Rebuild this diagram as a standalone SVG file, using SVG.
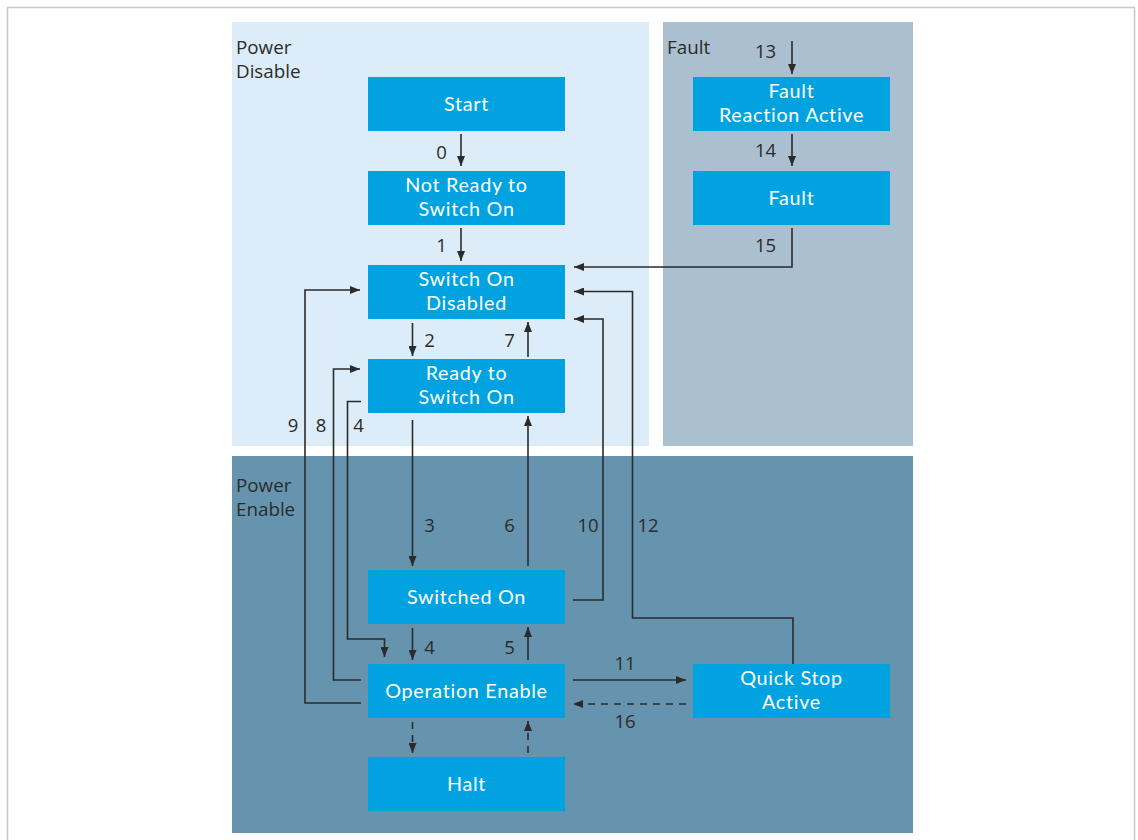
<svg xmlns="http://www.w3.org/2000/svg" width="1138" height="840" viewBox="0 0 1138 840">
<defs>
<marker id="ah" viewBox="0 0 10 8" refX="10" refY="4" markerWidth="10" markerHeight="8" markerUnits="userSpaceOnUse" orient="auto">
<path d="M0,0 L10,4 L0,8 Z" fill="#2b2b2b"/>
</marker>
</defs>
<style>
.box{fill:#00a3df}
.bt{font-family:Lato,"Open Sans",sans-serif;font-size:19.8px;letter-spacing:0.7px;fill:#ffffff;text-anchor:middle}
.rl{font-family:"Open Sans","Noto Sans",sans-serif;font-size:18.8px;fill:#2b2b2b}
.nl{font-family:"Open Sans","Noto Sans",sans-serif;font-size:18.5px;fill:#2b2b2b;text-anchor:middle}
.c{fill:none;stroke:#2b2b2b;stroke-width:1.6}
.a{marker-end:url(#ah)}
.d{stroke-dasharray:7 6}
</style>
<rect x="0" y="0" width="1138" height="840" fill="#ffffff"/>
<rect x="7.5" y="7.5" width="1127" height="840" fill="none" stroke="#c8c8c8" stroke-width="1.5"/>
<g id="regions">
<rect x="232" y="22" width="417" height="424" fill="#dcedf9"/>
<rect x="663" y="22" width="250" height="424" fill="#aabfd0"/>
<rect x="232" y="456" width="681" height="377" fill="#6694ae"/>
<text class="rl" x="236" y="54">Power<tspan x="236" dy="24">Disable</tspan></text>
<text class="rl" x="667" y="54">Fault</text>
<text class="rl" x="236" y="492">Power<tspan x="236" dy="24">Enable</tspan></text>
</g>
<g id="start"><rect class="box" x="368" y="77" width="197" height="54"/><text class="bt" x="466.5" y="111">Start</text></g>
<g id="not-ready"><rect class="box" x="368" y="171" width="197" height="54"/><text class="bt" x="466.5" y="192">Not Ready to<tspan x="466.5" dy="24">Switch On</tspan></text></g>
<g id="switch-on-disabled"><rect class="box" x="368" y="265" width="197" height="54"/><text class="bt" x="466.5" y="286">Switch On<tspan x="466.5" dy="24">Disabled</tspan></text></g>
<g id="ready"><rect class="box" x="368" y="359" width="197" height="54"/><text class="bt" x="466.5" y="380">Ready to<tspan x="466.5" dy="24">Switch On</tspan></text></g>
<g id="switched-on"><rect class="box" x="368" y="570" width="197" height="54"/><text class="bt" x="466.5" y="604">Switched On</text></g>
<g id="operation-enable"><rect class="box" x="368" y="664" width="197" height="54"/><text class="bt" x="466.5" y="698">Operation Enable</text></g>
<g id="halt"><rect class="box" x="368" y="757" width="197" height="54"/><text class="bt" x="466.5" y="791">Halt</text></g>
<g id="fault-reaction"><rect class="box" x="693" y="77" width="197" height="54"/><text class="bt" x="791.5" y="98">Fault<tspan x="791.5" dy="24">Reaction Active</tspan></text></g>
<g id="fault"><rect class="box" x="693" y="171" width="197" height="54"/><text class="bt" x="791.5" y="205">Fault</text></g>
<g id="quick-stop"><rect class="box" x="693" y="664" width="197" height="54"/><text class="bt" x="791.5" y="685">Quick Stop<tspan x="791.5" dy="24">Active</tspan></text></g>
<g id="connectors">
<path class="c a" d="M461,134 V166"/>
<path class="c a" d="M461,228 V261"/>
<path class="c a" d="M412.5,323 V356"/>
<path class="c a" d="M528,357 V322"/>
<path class="c a" d="M412.5,420 V566"/>
<path class="c a" d="M528,566 V416"/>
<path class="c a" d="M412.5,628 V660"/>
<path class="c a" d="M528,660 V627"/>
<path class="c a d" d="M412.5,722 V753"/>
<path class="c a d" d="M528,753 V721"/>
<path class="c a" d="M573,680 H686"/>
<path class="c a d" d="M686,704 H573"/>
<path class="c a" d="M793,664 V618 H632.5 V291.5 H574"/>
<path class="c a" d="M573,600 H603 V319 H574"/>
<path class="c a" d="M792,228 V267 H574"/>
<path class="c a" d="M792,41 V74"/>
<path class="c a" d="M792,134 V166"/>
<path class="c a" d="M361,703 H305 V290 H360"/>
<path class="c a" d="M361,680 H333.5 V369 H360"/>
<path class="c a" d="M361,401.5 H347.5 V639 H384.5 V657"/>
</g>
<g id="labels">
<text class="nl" x="441.5" y="159">0</text>
<text class="nl" x="441.5" y="252">1</text>
<text class="nl" x="429.5" y="347">2</text>
<text class="nl" x="509.5" y="347">7</text>
<text class="nl" x="293" y="432">9</text>
<text class="nl" x="321" y="432">8</text>
<text class="nl" x="358.5" y="432">4</text>
<text class="nl" x="429.5" y="532">3</text>
<text class="nl" x="509.5" y="532">6</text>
<text class="nl" x="588" y="532">10</text>
<text class="nl" x="648" y="532">12</text>
<text class="nl" x="429.5" y="654">4</text>
<text class="nl" x="509.5" y="654">5</text>
<text class="nl" x="625" y="670">11</text>
<text class="nl" x="625" y="728">16</text>
<text class="nl" x="765.5" y="58">13</text>
<text class="nl" x="765.5" y="157">14</text>
<text class="nl" x="765.5" y="252">15</text>
</g>
</svg>
